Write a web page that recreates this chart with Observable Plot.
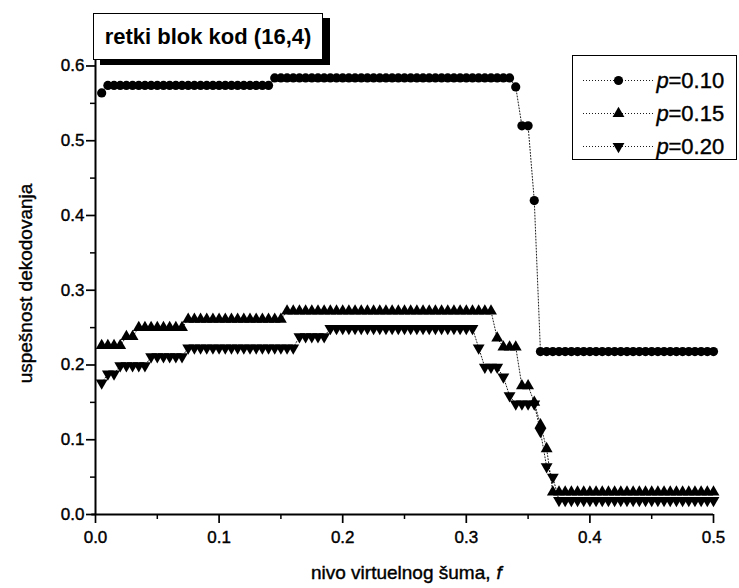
<!DOCTYPE html>
<html><head><meta charset="utf-8">
<script src="https://cdn.jsdelivr.net/npm/d3@7"></script>
<script src="https://cdn.jsdelivr.net/npm/@observablehq/plot@0.6"></script>
<style>
body{margin:0;background:#fff;}
#wrap{position:relative;width:739px;height:588px;font-family:"Liberation Sans",Arial,sans-serif;}
#title{position:absolute;left:93px;top:13px;width:228px;height:45px;border:1.5px solid #000;box-shadow:7px 5px 0 #000;background:#fff;font-weight:bold;font-size:22px;line-height:45px;text-align:center;color:#000;}
#legend{position:absolute;left:572px;top:55px;width:163px;height:103px;border:1.5px solid #000;background:#fff;}
#legend svg, #chart svg{display:block;}
#chart svg text, #legend svg text{stroke:#000;stroke-width:0.4px;}
</style></head><body>
<div id="wrap"><div id="chart"></div><div id="title">retki blok kod (16,4)</div><div id="legend"></div></div>
<script>
// noise level f
const f = [
0.005,0.010,0.015,0.020,0.025,0.030,0.035,0.040,0.045,0.050,
0.055,0.060,0.065,0.070,0.075,0.080,0.085,0.090,0.095,0.100,
0.105,0.110,0.115,0.120,0.125,0.130,0.135,0.140,0.145,0.150,
0.155,0.160,0.165,0.170,0.175,0.180,0.185,0.190,0.195,0.200,
0.205,0.210,0.215,0.220,0.225,0.230,0.235,0.240,0.245,0.250,
0.255,0.260,0.265,0.270,0.275,0.280,0.285,0.290,0.295,0.300,
0.305,0.310,0.315,0.320,0.325,0.330,0.335,0.340,0.345,0.350,
0.355,0.360,0.365,0.370,0.375,0.380,0.385,0.390,0.395,0.400,
0.405,0.410,0.415,0.420,0.425,0.430,0.435,0.440,0.445,0.450,
0.455,0.460,0.465,0.470,0.475,0.480,0.485,0.490,0.495,0.500];
// p = 0.10
const p10 = [
0.564,0.574,0.574,0.574,0.574,0.574,0.574,0.574,0.574,0.574,
0.574,0.574,0.574,0.574,0.574,0.574,0.574,0.574,0.574,0.574,
0.574,0.574,0.574,0.574,0.574,0.574,0.574,0.574,0.584,0.584,
0.584,0.584,0.584,0.584,0.584,0.584,0.584,0.584,0.584,0.584,
0.584,0.584,0.584,0.584,0.584,0.584,0.584,0.584,0.584,0.584,
0.584,0.584,0.584,0.584,0.584,0.584,0.584,0.584,0.584,0.584,
0.584,0.584,0.584,0.584,0.584,0.584,0.584,0.572,0.520,0.520,
0.420,0.218,0.218,0.218,0.218,0.218,0.218,0.218,0.218,0.218,
0.218,0.218,0.218,0.218,0.218,0.218,0.218,0.218,0.218,0.218,
0.218,0.218,0.218,0.218,0.218,0.218,0.218,0.218,0.218,0.218];
// p = 0.15
const p15 = [
0.226,0.226,0.226,0.226,0.238,0.238,0.250,0.250,0.250,0.250,
0.250,0.250,0.250,0.250,0.261,0.261,0.261,0.261,0.261,0.261,
0.261,0.261,0.261,0.261,0.261,0.261,0.261,0.261,0.261,0.261,
0.272,0.272,0.272,0.272,0.272,0.272,0.272,0.272,0.272,0.272,
0.272,0.272,0.272,0.272,0.272,0.272,0.272,0.272,0.272,0.272,
0.272,0.272,0.272,0.272,0.272,0.272,0.272,0.272,0.272,0.272,
0.272,0.272,0.272,0.272,0.236,0.224,0.224,0.224,0.172,0.172,
0.150,0.120,0.088,0.030,0.030,0.030,0.030,0.030,0.030,0.030,
0.030,0.030,0.030,0.030,0.030,0.030,0.030,0.030,0.030,0.030,
0.030,0.030,0.030,0.030,0.030,0.030,0.030,0.030,0.030,0.030];
// p = 0.20
const p20 = [
0.176,0.188,0.188,0.199,0.199,0.199,0.199,0.199,0.211,0.211,
0.211,0.211,0.211,0.211,0.223,0.223,0.223,0.223,0.223,0.223,
0.223,0.223,0.223,0.223,0.223,0.223,0.223,0.223,0.223,0.223,
0.223,0.223,0.238,0.238,0.238,0.238,0.238,0.249,0.249,0.249,
0.249,0.249,0.249,0.249,0.249,0.249,0.249,0.249,0.249,0.249,
0.249,0.249,0.249,0.249,0.249,0.249,0.249,0.249,0.249,0.249,
0.249,0.223,0.197,0.197,0.197,0.184,0.159,0.148,0.148,0.148,
0.148,0.111,0.064,0.050,0.019,0.019,0.019,0.019,0.019,0.019,
0.019,0.019,0.019,0.019,0.019,0.019,0.019,0.019,0.019,0.019,
0.019,0.019,0.019,0.019,0.019,0.019,0.019,0.019,0.019,0.019];

const seriesNames = ["0.10", "0.15", "0.20"];
const xTicks = [0.0, 0.1, 0.2, 0.3, 0.4, 0.5];
const xMinor = [0.05, 0.15, 0.25, 0.35, 0.45];
const yTicks = [0.0, 0.1, 0.2, 0.3, 0.4, 0.5, 0.6];
const yMinor = [0.05, 0.15, 0.25, 0.35, 0.45, 0.55];
const xTitle = "nivo virtuelnog šuma,";
const xTitleVar = "f";
const yTitle = "uspešnost dekodovanja";

const downTriangle = {
  draw(context, size) {
    const y = Math.sqrt(size / (Math.sqrt(3) * 3));
    context.moveTo(0, 2 * y);
    context.lineTo(Math.sqrt(3) * y, -y);
    context.lineTo(-Math.sqrt(3) * y, -y);
    context.closePath();
  }
};
const symbols = ["circle", "triangle", downTriangle];
const radii = [4.6, 4.4, 4.4];

const values = [p10, p15, p20];
const rows = values.map((arr, k) => arr.map((v, i) => ({f: f[i], v, p: seriesNames[k]})));
const font = "'Liberation Sans', Arial, Helvetica, sans-serif";

const chart = Plot.plot({
  width: 739, height: 588,
  marginLeft: 95, marginRight: 26, marginTop: 58, marginBottom: 74,
  x: {domain: [0, 0.5]},
  y: {domain: [0, 0.61]},
  style: {fontFamily: font, background: "white", color: "black"},
  marks: [
    Plot.axisX({ticks: xTicks, tickSize: 9, tickPadding: 7, tickFormat: d => d.toFixed(1), fontSize: 17, label: null, strokeWidth: 1.7}),
    Plot.axisX({ticks: xMinor, tickSize: 5, tickFormat: () => "", label: null, strokeWidth: 1.5}),
    Plot.axisY({ticks: yTicks, tickSize: 9, tickPadding: 2, tickFormat: d => d.toFixed(1), fontSize: 17, label: null, strokeWidth: 1.7}),
    Plot.axisY({ticks: yMinor, tickSize: 5, tickFormat: () => "", label: null, strokeWidth: 1.5}),
    Plot.ruleY([0], {strokeWidth: 2, x1: -0.003, x2: 0.5}),
    Plot.ruleX([0], {strokeWidth: 2}),
    Plot.text([yTitle], {frameAnchor: "left", dx: -70, dy: -3, rotate: -90, textAnchor: "middle", fontSize: 19, text: d => d}),
    Plot.text([xTitle], {frameAnchor: "bottom", dx: 86, dy: 64, textAnchor: "end", fontSize: 19, text: d => d}),
    Plot.text([xTitleVar], {frameAnchor: "bottom", dx: 92, dy: 64, textAnchor: "start", fontSize: 19, fontStyle: "italic", text: d => d}),
    ...rows.map(r => Plot.line(r, {x: "f", y: "v", stroke: "black", strokeWidth: 0.9, strokeDasharray: "1,2"})),
    ...rows.map((r, k) => Plot.dot(r, {x: "f", y: "v", symbol: symbols[k], r: radii[k], fill: "black", stroke: "none"}))
  ]
});
document.getElementById("chart").appendChild(chart);

// legend
const legendRows = seriesNames.map((s, k) => ({s, k}));
const legend = Plot.plot({
  width: 163, height: 103, margin: 0,
  x: {domain: [0, 163], range: [0, 163], axis: null},
  y: {type: "point", domain: seriesNames, range: [23, 90], padding: 0, axis: null},
  style: {fontFamily: font, background: "white", color: "black"},
  marks: [
    Plot.ruleY(seriesNames, {y: d => d, x1: 10, x2: 80, stroke: "black", strokeWidth: 0.9, strokeDasharray: "1,2"}),
    ...legendRows.map(d => Plot.dot([d], {x: () => 45, y: "s", symbol: symbols[d.k], r: radii[d.k], fill: "black", stroke: "none"})),
    Plot.text(seriesNames, {x: () => 83, y: d => d, text: () => "p", fontStyle: "italic", textAnchor: "start", fontSize: 22}),
    Plot.text(seriesNames, {x: () => 95, y: d => d, text: d => "=" + d, textAnchor: "start", fontSize: 22})
  ]
});
document.getElementById("legend").appendChild(legend);
</script>
</body></html>
